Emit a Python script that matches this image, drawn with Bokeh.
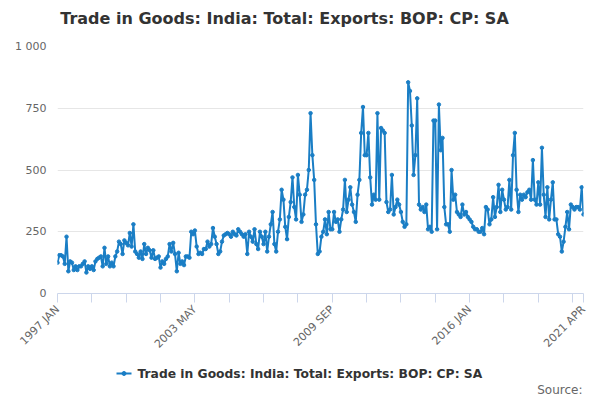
from bokeh.plotting import figure
from bokeh.layouts import column
from bokeh.models import FixedTicker, NumeralTickFormatter
from bokeh.core.properties import value
from bokeh.embed import file_html
from bokeh.resources import INLINE

title = "Trade in Goods: India: Total: Exports: BOP: CP: SA"

# monthly values, 1997 JAN .. 2021 APR
exports = [
    125, 155, 155, 150, 120, 230, 90, 130, 125, 95, 110, 95,
    110, 110, 120, 130, 85, 110, 100, 110, 95, 130, 140, 145,
    150, 110, 185, 120, 150, 110, 125, 110, 150, 170, 210, 200,
    160, 215, 205, 195, 245, 190, 280, 170, 160, 145, 170, 140,
    200, 160, 185, 175, 145, 175, 140, 145, 150, 105, 130, 120,
    140, 150, 200, 170, 205, 160, 90, 165, 120, 130, 115, 150,
    150, 145, 250, 240, 255, 190, 160, 165, 160, 180, 180, 210,
    190, 200, 265, 230, 200, 160, 170, 210, 235, 240, 245, 240,
    230, 250, 240, 235, 260, 250, 240, 230, 240, 160, 250, 230,
    210, 260, 200, 180, 250, 230, 200, 250, 170, 230, 280, 330,
    200, 170, 250, 300, 420, 380, 270, 220, 310, 370, 470, 350,
    300, 480, 400, 290, 320, 400, 420, 500, 730, 560, 460, 280,
    160, 170, 230, 250, 300, 240, 330, 260, 260, 330, 290, 300,
    250, 300, 340, 460, 330, 380, 430, 360, 330, 290, 400, 460,
    650, 755, 560, 560, 650, 470, 360, 400, 380, 730, 380, 670,
    660, 650, 370, 330, 340, 480, 320, 350, 380, 360, 330, 290,
    270, 280, 855, 820, 680, 480, 560, 790, 360, 340, 350, 330,
    360, 260, 270, 250, 700, 700, 260, 765, 580, 630, 350, 280,
    280, 250, 500, 380, 400, 330, 320, 310, 360, 320, 330, 310,
    300, 290, 270, 260, 260, 250, 250, 265, 240, 350, 340, 280,
    300, 390, 310, 350, 440, 330, 420, 380, 340, 350, 460, 340,
    560, 650, 420, 330, 400, 380, 400, 390, 410, 420, 380, 540,
    380, 360, 450, 360, 590, 400, 310, 430, 300, 380, 450, 300,
    300, 240, 230, 170, 210, 270, 330, 260, 360, 350, 340, 350,
    350, 340, 430, 320,
]
months = list(range(len(exports)))
tick_pos = list(range(0, 292, 19)) + [291]
tick_labels = {0: "1997 JAN", 76: "2003 MAY", 152: "2009 SEP", 228: "2016 JAN", 291: "2021 APR"}
y_ticks = [0, 250, 500, 750, 1000]

FONT = "DejaVu Sans"
BLUE = "#1a7ec5"


def strip(height):
    # the column aligns frames, so map the strip's frame 1:1 to page pixels 57..583
    f = figure(width=600, height=height, output_backend="svg", toolbar_location=None,
               x_range=(57, 583), y_range=(height, 0), min_border=0)
    f.axis.visible = False
    f.grid.visible = False
    f.outline_line_color = None
    return f


# title strip
t = strip(38)
t.text([284], [18], text=[title], text_font=value(FONT), text_font_size="16px",
       text_font_style="bold", text_color="#333333", text_baseline="middle", text_align="center")

p = figure(width=600, height=320, output_backend="svg", toolbar_location=None,
           x_range=(0, 291), y_range=(0, 1000),
           min_border_left=57, min_border_right=17, min_border_top=8, min_border_bottom=55)
p.outline_line_color = None

p.line(months, exports, line_color=BLUE, line_width=2)
p.scatter(months, exports, size=3.5, color=BLUE)

p.xgrid.grid_line_color = None
p.ygrid.grid_line_color = "#e6e6e6"
p.ygrid.ticker = FixedTicker(ticks=y_ticks)

p.yaxis.ticker = FixedTicker(ticks=y_ticks)
p.yaxis.formatter = NumeralTickFormatter(format="0,0")
p.yaxis.major_label_overrides = {1000: "1 000"}
p.yaxis.axis_line_color = None
p.yaxis.major_tick_line_color = None
p.yaxis.minor_tick_line_color = None
p.yaxis.major_label_text_font = FONT
p.yaxis.major_label_text_font_size = "11px"
p.yaxis.major_label_text_color = "#666666"

p.xaxis.ticker = FixedTicker(ticks=tick_pos)
p.xaxis.major_label_overrides = {t_: tick_labels.get(t_, "") for t_ in tick_pos}
p.xaxis.major_label_orientation = 0.785
p.xaxis.axis_line_color = "#ccd6eb"
p.xaxis.major_tick_line_color = "#ccd6eb"
p.xaxis.major_tick_out = 9
p.xaxis.major_tick_in = 0
p.xaxis.minor_tick_line_color = None
p.xaxis.major_label_text_font = FONT
p.xaxis.major_label_text_font_size = "11px"
p.xaxis.major_label_text_color = "#666666"

# legend / source strip below the chart
q = strip(40)
q.line([116, 131], [15, 15], line_color=BLUE, line_width=2)
q.scatter([123.5], [15], size=4, color=BLUE)
q.text([137], [15], text=[title], text_font=value(FONT), text_font_size="12.3px",
       text_font_style="bold", text_color="#333333", text_baseline="middle")
q.text([582], [31], text=["Source:"], text_font=value(FONT), text_font_size="12px",
       text_color="#666666", text_baseline="middle", text_align="right")

open("out.html", "w").write(file_html(column(t, p, q, spacing=0), INLINE))
